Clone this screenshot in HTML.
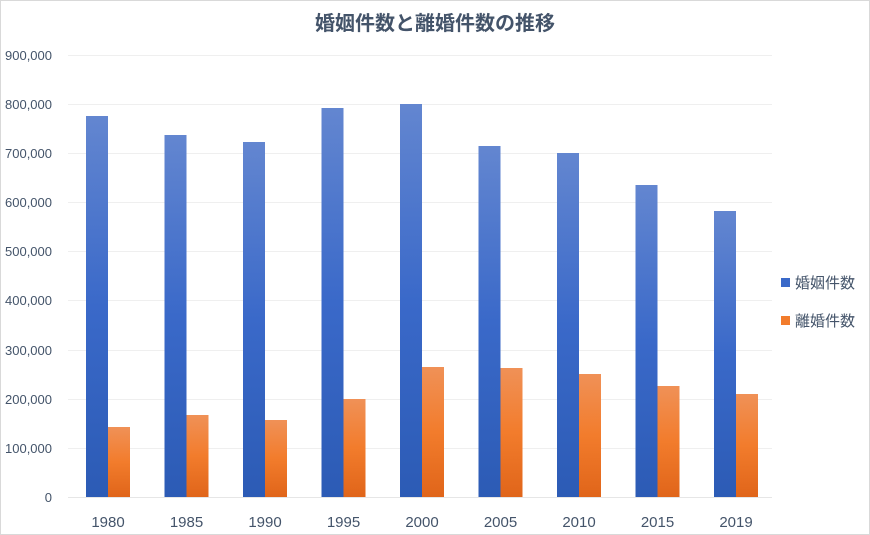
<!DOCTYPE html><html><head><meta charset="utf-8"><style>body{margin:0;background:#fff}svg{display:block}text{font-family:"Liberation Sans","Noto Sans CJK JP",sans-serif;fill:#44546a}</style></head><body>
<svg width="870" height="535" viewBox="0 0 870 535">
<defs>
<linearGradient id="b" x1="0" y1="0" x2="0" y2="1"><stop offset="0" stop-color="#6386d0"/><stop offset="0.5" stop-color="#3a69c9"/><stop offset="1" stop-color="#2c5bb5"/></linearGradient>
<linearGradient id="o" x1="0" y1="0" x2="0" y2="1"><stop offset="0" stop-color="#f09157"/><stop offset="0.5" stop-color="#f27c2c"/><stop offset="1" stop-color="#e0651a"/></linearGradient>
</defs>
<rect x="0.5" y="0.5" width="869" height="534" fill="#fff" stroke="#d9d9d9"/>
<text x="435" y="30" text-anchor="middle" font-size="20" font-weight="bold" style="fill:#44546a">婚姻件数と離婚件数の推移</text>
<g stroke="#efefef" stroke-width="1">
<line x1="68" x2="772" y1="55.5" y2="55.5"/><line x1="68" x2="772" y1="104.5" y2="104.5"/><line x1="68" x2="772" y1="153.5" y2="153.5"/><line x1="68" x2="772" y1="202.5" y2="202.5"/><line x1="68" x2="772" y1="251.5" y2="251.5"/><line x1="68" x2="772" y1="300.5" y2="300.5"/><line x1="68" x2="772" y1="350.5" y2="350.5"/><line x1="68" x2="772" y1="399.5" y2="399.5"/><line x1="68" x2="772" y1="448.5" y2="448.5"/><line x1="68" x2="772" y1="497.5" y2="497.5" stroke="#e6e6e6"/>
</g>
<g font-size="13" text-anchor="end">
<text x="52" y="60">900,000</text><text x="52" y="109">800,000</text><text x="52" y="158">700,000</text><text x="52" y="207">600,000</text><text x="52" y="256">500,000</text><text x="52" y="305">400,000</text><text x="52" y="355">300,000</text><text x="52" y="404">200,000</text><text x="52" y="453">100,000</text><text x="52" y="502">0</text>
</g>
<g fill="url(#b)">
<rect x="86" y="116" width="22" height="381"/>
<rect x="164.5" y="135" width="22" height="362"/>
<rect x="243" y="142" width="22" height="355"/>
<rect x="321.5" y="108" width="22" height="389"/>
<rect x="400" y="104" width="22" height="393"/>
<rect x="478.5" y="146" width="22" height="351"/>
<rect x="557" y="153" width="22" height="344"/>
<rect x="635.5" y="185" width="22" height="312"/>
<rect x="714" y="211" width="22" height="286"/>
</g>
<g fill="url(#o)">
<rect x="108" y="427" width="22" height="70"/>
<rect x="186.5" y="415" width="22" height="82"/>
<rect x="265" y="420" width="22" height="77"/>
<rect x="343.5" y="399" width="22" height="98"/>
<rect x="422" y="367" width="22" height="130"/>
<rect x="500.5" y="368" width="22" height="129"/>
<rect x="579" y="374" width="22" height="123"/>
<rect x="657.5" y="386" width="22" height="111"/>
<rect x="736" y="394" width="22" height="103"/>
</g>
<g font-size="15" text-anchor="middle">
<text x="108" y="527">1980</text><text x="186.5" y="527">1985</text><text x="265" y="527">1990</text><text x="343.5" y="527">1995</text><text x="422" y="527">2000</text><text x="500.5" y="527">2005</text><text x="579" y="527">2010</text><text x="657.5" y="527">2015</text><text x="736" y="527">2019</text>
</g>
<rect x="781" y="278" width="9" height="9" fill="#3a69c9"/>
<text x="795" y="288" font-size="15">婚姻件数</text>
<rect x="781" y="316" width="9" height="9" fill="#f27c2c"/>
<text x="795" y="326" font-size="15">離婚件数</text>
</svg>
</body></html>
